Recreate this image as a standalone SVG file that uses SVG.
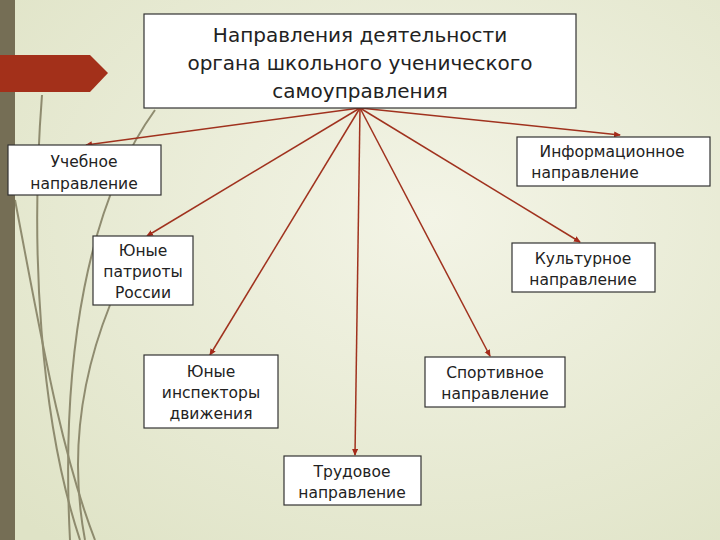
<svg xmlns="http://www.w3.org/2000/svg" width="720" height="540" viewBox="0 0 720 540">
<defs>
<radialGradient id="bg" cx="0.6" cy="0.4" r="0.8">
<stop offset="0" stop-color="#f3f4e6"/><stop offset="1" stop-color="#dfe3c6"/>
</radialGradient>
<marker id="ah" markerWidth="8" markerHeight="8" refX="6" refY="3" orient="auto" markerUnits="userSpaceOnUse"><path d="M0,0 L7,3 L0,6 Z" fill="#a52a1a"/></marker>
<style>
.box{fill:#fff;stroke:#333;stroke-width:1.2}
.t{font-family:"DejaVu Sans","Liberation Sans",sans-serif;font-size:15.5px;fill:#222;text-anchor:middle}
.tt{font-family:"DejaVu Sans","Liberation Sans",sans-serif;font-size:20px;fill:#222;text-anchor:middle}
.c{stroke:#a0321e;stroke-width:1.5;fill:none;marker-end:url(#ah)}
.d{fill:none;stroke:#7a7558;stroke-width:2}
</style>
</defs>
<rect width="720" height="540" fill="url(#bg)"/>
<rect x="0" y="0" width="15" height="540" fill="#756e55"/>
<g opacity="0.8">
<path class="d" d="M42,95 C30,250 40,420 80,540"/>
<path class="d" d="M15,200 C40,330 60,450 95,540"/>
<path class="d" d="M110,305 C80,380 70,460 85,540" stroke-width="2.5"/>
<path class="d" d="M155,110 C90,200 60,350 70,540" stroke="#c8c9b0" stroke-width="1.5"/>
</g>
<polygon points="0,55 90,55 108,73 90,92 0,92" fill="#a3301a"/>
<g id="connectors">
<line class="c" x1="360" y1="108" x2="86" y2="145"/>
<line class="c" x1="360" y1="108" x2="620" y2="135"/>
<line class="c" x1="360" y1="108" x2="147" y2="236"/>
<line class="c" x1="360" y1="108" x2="580" y2="242"/>
<line class="c" x1="360" y1="108" x2="210" y2="355"/>
<line class="c" x1="360" y1="108" x2="490" y2="356"/>
<line class="c" x1="360" y1="108" x2="355" y2="455"/>
</g>
<g id="root"><rect class="box" x="144" y="14" width="432" height="94"/>
<text class="tt" x="360" y="42">Направления деятельности</text>
<text class="tt" x="360" y="70">органа школьного ученического</text>
<text class="tt" x="360" y="98">самоуправления</text></g>
<g id="n1"><rect class="box" x="8" y="145" width="153" height="50"/>
<text class="t" x="84" y="167">Учебное</text><text class="t" x="84" y="189">направление</text></g>
<g id="n2"><rect class="box" x="517" y="137" width="193" height="49"/>
<text class="t" x="612" y="157">Информационное</text><text class="t" x="585" y="178">направление</text></g>
<g id="n3"><rect class="box" x="93" y="236" width="100" height="69"/>
<text class="t" x="143" y="256">Юные</text><text class="t" x="143" y="277">патриоты</text><text class="t" x="143" y="298">России</text></g>
<g id="n4"><rect class="box" x="512" y="243" width="143" height="49"/>
<text class="t" x="583" y="264">Культурное</text><text class="t" x="583" y="285">направление</text></g>
<g id="n5"><rect class="box" x="144" y="355" width="134" height="73"/>
<text class="t" x="211" y="377">Юные</text><text class="t" x="211" y="398">инспекторы</text><text class="t" x="211" y="419">движения</text></g>
<g id="n6"><rect class="box" x="425" y="357" width="140" height="50"/>
<text class="t" x="495" y="378">Спортивное</text><text class="t" x="495" y="399">направление</text></g>
<g id="n7"><rect class="box" x="284" y="456" width="137" height="49"/>
<text class="t" x="352" y="477">Трудовое</text><text class="t" x="352" y="498">направление</text></g>
</svg>
